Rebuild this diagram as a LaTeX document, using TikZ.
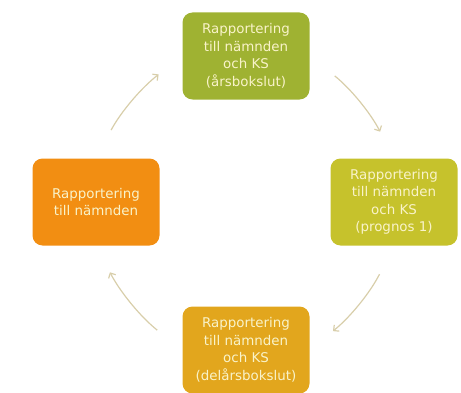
\documentclass[tikz,border=0pt]{standalone}
\usepackage{fontspec}
\setmainfont{DejaVu Sans}
\usetikzlibrary{arrows.meta}

\definecolor{arsgreen}{HTML}{9FB232}
\definecolor{proggreen}{HTML}{C6C22C}
\definecolor{delargold}{HTML}{E2A61D}
\definecolor{namndorange}{HTML}{F28E12}
\definecolor{boxtext}{HTML}{F9F3C9}
\definecolor{cyclearrow}{HTML}{D8CEAA}

\begin{document}
\begin{tikzpicture}[x=1pt,y=1pt,
    stepbox/.style={rounded corners=10pt, minimum width=127pt, minimum height=87pt,
      align=center, text=boxtext, font=\fontsize{13.4}{17.5}\selectfont, inner sep=2pt},
    cycle/.style={draw=cyclearrow, line width=1.2pt, -{Straight Barb[length=4pt,width=8pt]},
      bend left=12, shorten <=32pt, shorten >=30pt}]
    \useasboundingbox (0,0) rectangle (461,392);
    % the four reports
    \node[stepbox, fill=arsgreen] (ars) at (246,336)
      {Rapportering\\till nämnden\\och KS\\(årsbokslut)};
    \node[stepbox, fill=proggreen] (prog) at (394,190)
      {Rapportering\\till nämnden\\och KS\\(prognos 1)};
    \node[stepbox, fill=delargold] (delar) at (246,42)
      {Rapportering\\till nämnden\\och KS\\(delårsbokslut)};
    \node[stepbox, fill=namndorange] (namnd) at (96,190)
      {Rapportering\\till nämnden};
    % arrows round the cycle
    \foreach \a/\b in {namnd.north/ars.west, ars.east/prog.north,
                       prog.south/delar.east, delar.west/namnd.south} {
      \draw[cycle] (\a) to (\b);
    }
  \end{tikzpicture}
\end{document}
